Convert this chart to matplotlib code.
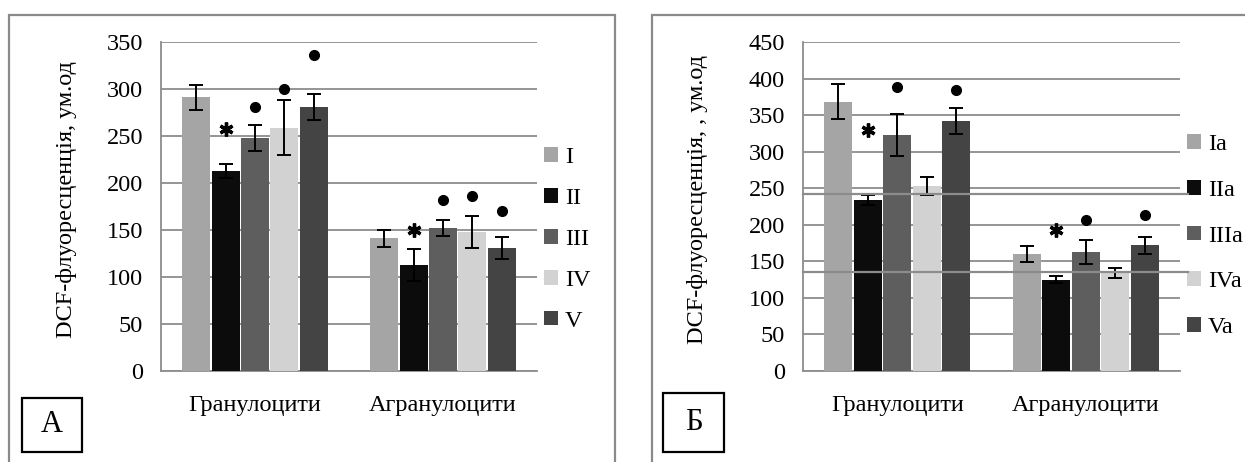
import numpy as np
import matplotlib.pyplot as plt
from matplotlib.patches import Rectangle

plt.rcParams['font.family'] = ['Liberation Serif', 'DejaVu Serif']

categories = ['Гранулоцити', 'Агранулоцити']
ylabel_A = 'DCF-флуоресценція, ум.од'
ylabel_B = 'DCF-флуоресценція, , ум.од'

# panel A
series_A = ['I', 'II', 'III', 'IV', 'V']
gran_A = [291, 213, 248, 259, 281]
gran_A_err = [13, 7.5, 13.5, 29, 13.5]
agran_A = [141, 113, 152, 148, 131]
agran_A_err = [9, 17, 8.5, 17, 12]
sig_A_gran = ['', '*', 'o', 'o', 'o']
sig_A_gran_y = [0, 257, 281, 300, 336]
sig_A_agran = ['', '*', 'o', 'o', 'o']
sig_A_agran_y = [0, 150, 182, 186, 170]

# panel B
series_B = ['Ia', 'IIa', 'IIIa', 'IVa', 'Va']
gran_B = [368, 234, 323, 253, 342]
gran_B_err = [24, 6.5, 29, 12.5, 18]
agran_B = [160, 125, 163, 134, 172]
agran_B_err = [11, 5, 16, 6.5, 11.5]
sig_B_gran = ['', '*', 'o', '', 'o']
sig_B_gran_y = [0, 330, 388, 0, 385]
sig_B_agran = ['', '*', 'o', '', 'o']
sig_B_agran_y = [0, 193, 207, 0, 213]
stray_lines_B = [242, 135]

colors = ['#a5a5a5', '#0c0c0c', '#5e5e5e', '#d2d2d2', '#444444']
gridc = '#8c8c8c'
fs = 17.5

W, H = 1245, 462
fig = plt.figure(figsize=(W / 100, H / 100), dpi=100)

# outer frames
fig.patches.append(Rectangle((9 / W, -0.1), (615 - 9) / W, 1.1 - 15 / H,
                             transform=fig.transFigure, fill=False,
                             ec='#8a8a8a', lw=1.6))
fig.patches.append(Rectangle((652 / W, -0.1), 1.0, 1.1 - 15 / H,
                             transform=fig.transFigure, fill=False,
                             ec='#8a8a8a', lw=1.6))


def panel(left, right, ymax, gran, gerr, agran, aerr, names, sigs, ylabel,
          letter, box, ylab_x, leg_y, leg_space):
    ax = fig.add_axes([left / W, (H - 371) / H, (right - left) / W, 329 / H])
    x = np.arange(len(categories))
    bw = 0.156
    for i in range(len(names)):
        vals = [gran[i], agran[i]]
        errs = [gerr[i], aerr[i]]
        ax.bar(x + (i - 2) * bw, vals, bw * 0.95, color=colors[i],
               label=names[i], zorder=3)
        ax.errorbar(x + (i - 2) * bw, vals, yerr=errs, fmt='none',
                    ecolor='black', elinewidth=1.4, capsize=5, capthick=1.4,
                    zorder=4)
    for j, (syms, ys) in enumerate(sigs):
        for i, (s, y) in enumerate(zip(syms, ys)):
            if s == '*':
                ax.plot(j + (i - 2) * bw, y, marker=(6, 2, 0), ms=10,
                        mew=2.4, color='black', zorder=5, clip_on=False)
            elif s == 'o':
                ax.plot(j + (i - 2) * bw, y, 'o', ms=7, color='black',
                        zorder=5, clip_on=False)
    ax.set_xlim(-0.5, 1.5)
    ax.set_ylim(0, ymax)
    ax.set_yticks(np.arange(0, ymax + 1, 50))
    ax.set_xticks(x)
    ax.set_xticklabels(categories)
    ax.tick_params(axis='both', length=0, labelsize=fs)
    ax.tick_params(axis='y', pad=13)
    ax.tick_params(axis='x', pad=17)
    ax.grid(axis='y', color=gridc, lw=1.3, zorder=0)
    for s in ['top', 'right']:
        ax.spines[s].set_visible(False)
    ax.spines['left'].set_color(gridc)
    ax.spines['bottom'].set_color(gridc)
    ax.spines['left'].set_linewidth(1.3)
    ax.spines['bottom'].set_linewidth(1.3)
    ax.legend(loc='center left', bbox_to_anchor=(1.0, leg_y), frameon=False,
              fontsize=fs, handlelength=0.55, handleheight=0.55,
              handletextpad=0.3, labelspacing=leg_space, borderpad=0,
              borderaxespad=0.3)
    fig.text(ylab_x / W, (H - 200) / H, ylabel, rotation=90, fontsize=fs,
             ha='center', va='center')
    bx0, by0, bx1, by1 = box
    fig.patches.append(Rectangle((bx0 / W, (H - by1) / H), (bx1 - bx0) / W,
                                 (by1 - by0) / H, transform=fig.transFigure,
                                 fill=False, ec='black', lw=1.6))
    fig.text((bx0 + bx1) / 2 / W, (H - (by0 + by1) / 2) / H, letter,
             fontsize=22, ha='center', va='center')
    return ax


panel(161, 537, 350, gran_A, gran_A_err, agran_A, agran_A_err, series_A,
      [(sig_A_gran, sig_A_gran_y), (sig_A_agran, sig_A_agran_y)],
      ylabel_A, 'А', (22, 398, 82, 452), 67, 0.40, 0.82)
axB = panel(803, 1180, 450, gran_B, gran_B_err, agran_B, agran_B_err,
            series_B,
            [(sig_B_gran, sig_B_gran_y), (sig_B_agran, sig_B_agran_y)],
            ylabel_B, 'Б', (663, 393, 724, 452), 698, 0.41, 1.02)
for v in stray_lines_B:
    axB.axhline(v, xmin=0, xmax=1.02, color=gridc, lw=1.6, zorder=6,
                clip_on=False)

fig.savefig('out.png', dpi=100)
